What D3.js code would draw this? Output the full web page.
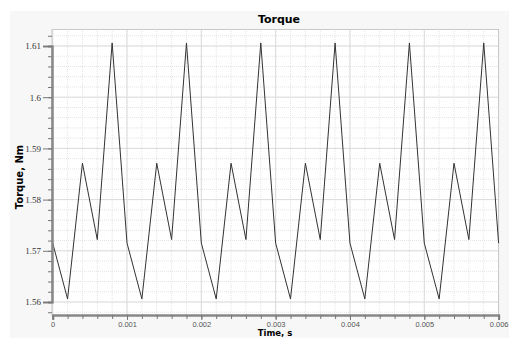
<!DOCTYPE html>
<html>
<head>
<meta charset="utf-8">
<script src="https://cdn.jsdelivr.net/npm/d3@7"></script>
<style>
  body { margin: 0; background: #fff; }
  svg { display: block; font-family: "DejaVu Sans", Verdana, sans-serif; }
</style>
</head>
<body>
<div id="chart"></div>
<script>
// torque samples, one every 0.0002 s
const times = [0, 0.0002, 0.0004, 0.0006, 0.0008,
  0.001, 0.0012, 0.0014, 0.0016, 0.0018,
  0.002, 0.0022, 0.0024, 0.0026, 0.0028,
  0.003, 0.0032, 0.0034, 0.0036, 0.0038,
  0.004, 0.0042, 0.0044, 0.0046, 0.0048,
  0.005, 0.0052, 0.0054, 0.0056, 0.0058, 0.006];
const torque = [1.5715, 1.5606, 1.5871, 1.5722, 1.6106,
  1.5715, 1.5606, 1.5871, 1.5722, 1.6106,
  1.5715, 1.5606, 1.5871, 1.5722, 1.6106,
  1.5715, 1.5606, 1.5871, 1.5722, 1.6106,
  1.5715, 1.5606, 1.5871, 1.5722, 1.6106,
  1.5715, 1.5606, 1.5871, 1.5722, 1.6106, 1.5715];
const xTicks = [0, 0.001, 0.002, 0.003, 0.004, 0.005, 0.006];
const yTicks = [1.56, 1.57, 1.58, 1.59, 1.6, 1.61];

const width = 509, height = 338;
const pL = 52, pR = 499, pT = 29, pB = 315;

const svg = d3.select('#chart').append('svg')
    .attr('width', width)
    .attr('height', height);

// panel background
svg.append('rect')
    .attr('x', 10).attr('y', 11)
    .attr('width', width - 10).attr('height', height - 11)
    .attr('fill', '#f7f7f7');

const x = d3.scaleLinear().domain([0, 0.006]).range([pL + 0.7, pR - 0.4]);
const y = d3.scaleLinear().domain([1.56, 1.61]).range([302, 46]);

svg.append('rect')
    .attr('x', pL).attr('y', pT)
    .attr('width', pR - pL).attr('height', pB - pT)
    .attr('fill', '#fff');

const xMinor = d3.range(0, 31).map(i => i * 0.0002);
const yMinor = d3.range(0, 28).map(i => 1.558 + i * 0.002).filter(v => y(v) > pT && y(v) < pB);

// minor grid
svg.append('g').selectAll('line')
    .data(xMinor).enter().append('line')
    .attr('x1', d => x(d)).attr('x2', d => x(d))
    .attr('y1', pT).attr('y2', pB)
    .attr('stroke', '#e4e4e4').attr('stroke-dasharray', '1,1');
svg.append('g').selectAll('line')
    .data(yMinor).enter().append('line')
    .attr('x1', pL).attr('x2', pR)
    .attr('y1', d => y(d)).attr('y2', d => y(d))
    .attr('stroke', '#e4e4e4').attr('stroke-dasharray', '1,1');

// major grid
svg.append('g').selectAll('line')
    .data(xTicks).enter().append('line')
    .attr('x1', d => x(d)).attr('x2', d => x(d))
    .attr('y1', pT).attr('y2', pB)
    .attr('stroke', '#dcdcdc');
svg.append('g').selectAll('line')
    .data(yTicks).enter().append('line')
    .attr('x1', pL).attr('x2', pR)
    .attr('y1', d => y(d)).attr('y2', d => y(d))
    .attr('stroke', '#dcdcdc');

// frame
svg.append('rect')
    .attr('x', pL).attr('y', pT + 0.5)
    .attr('width', pR - pL - 0.5).attr('height', pB - pT)
    .attr('fill', 'none').attr('stroke', '#c8c8c8');

// the curve
const line = d3.line()
    .x((d, i) => x(times[i]))
    .y(d => y(d));
svg.append('path')
    .datum(torque)
    .attr('d', line)
    .attr('fill', 'none')
    .attr('stroke', '#333')
    .attr('stroke-width', 1);

// axes
const yAxis = svg.append('g').attr('transform', `translate(${pL},0)`)
    .call(d3.axisLeft(y).tickValues(yTicks).tickSize(9).tickFormat(d3.format('~g')));
svg.append('g').attr('transform', `translate(${pL},0)`)
    .call(d3.axisLeft(y).tickValues(yMinor).tickSize(4).tickFormat(''));
const xAxis = svg.append('g').attr('transform', `translate(0,${pB})`)
    .call(d3.axisBottom(x).tickValues(xTicks).tickSize(5).tickFormat(d3.format('~g')));
svg.append('g').attr('transform', `translate(0,${pB})`)
    .call(d3.axisBottom(x).tickValues(xMinor).tickSize(4).tickFormat(''));

svg.selectAll('.domain').attr('stroke', '#888').attr('stroke-width', 2);
svg.selectAll('.tick line').attr('stroke', '#777');
yAxis.selectAll('.tick text').attr('x', -11).attr('fill', '#333')
    .style('font-family', '"Liberation Serif", serif').style('font-size', '9px');
xAxis.selectAll('.tick text').attr('y', 6).attr('dy', '0.8em').attr('fill', '#555')
    .style('font-family', '"Liberation Sans", sans-serif').style('font-size', '7.5px');

// titles
svg.append('text')
    .attr('x', 279).attr('y', 23)
    .attr('text-anchor', 'middle')
    .style('font-weight', 'bold').style('font-size', '11px')
    .text('Torque');
svg.append('text')
    .attr('transform', 'translate(23,177) rotate(-90)')
    .attr('text-anchor', 'middle')
    .style('font-weight', 'bold').style('font-size', '10px')
    .text('Torque, Nm');
svg.append('text')
    .attr('x', 275).attr('y', 336)
    .attr('text-anchor', 'middle')
    .style('font-weight', 'bold').style('font-size', '8.5px')
    .text('Time, s');
</script>
</body>
</html>
